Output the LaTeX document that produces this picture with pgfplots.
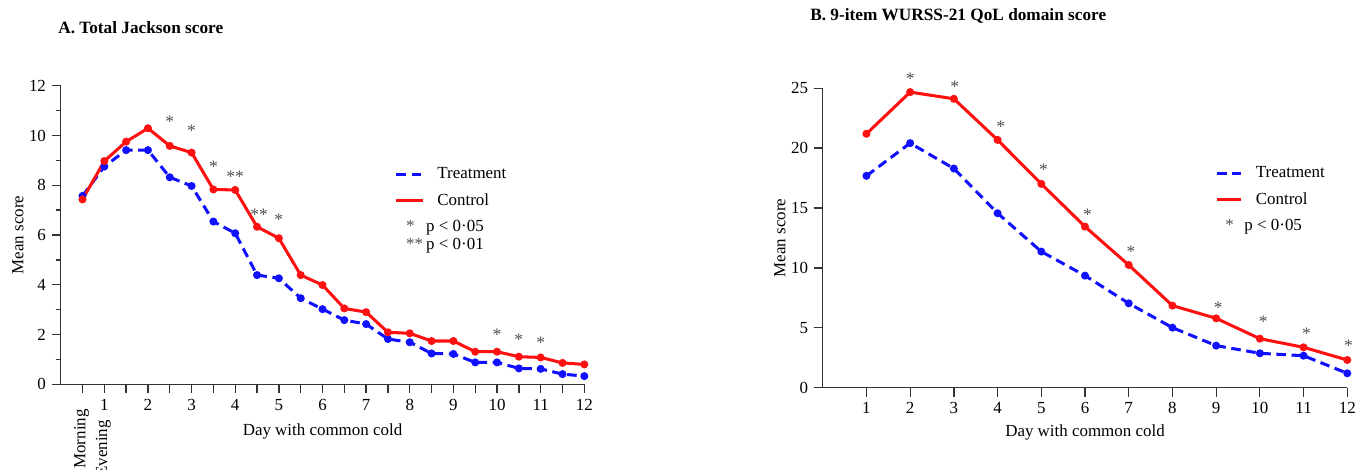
\documentclass[border=0pt]{standalone}
\usepackage{fontspec}
\setmainfont{Liberation Serif}
\usepackage{pgfplots}
\pgfplotsset{compat=1.18}
\definecolor{ctrlred}{HTML}{FF1010}
\definecolor{trtblue}{HTML}{1010FF}
\definecolor{stargray}{HTML}{505050}
\definecolor{axgray}{HTML}{333333}

\newcommand\figfont{\fontsize{10.6}{12.5}\selectfont}

\pgfplotsset{
  coldaxis/.style={
    scale only axis,
    axis lines=left,
    axis line style={-, axgray, line width=0.8pt},
    every tick/.style={axgray, line width=0.8pt},
    tick align=outside,
    major tick length=0.2cm,
    minor tick length=0.11cm,
    font=\figfont,
    /pgf/number format/assume math mode=true,
    xmin=0, xmax=12,
    xlabel={Day with common cold},
    ylabel={Mean score},
    ylabel style={at={(axis description cs:-0.0815,0.5)}, anchor=center},
    clip=false,
    legend cell align=left,
  },
  trt/.style={trtblue, line width=1.9pt, dash pattern=on 6pt off 3.5pt,
    mark=*, mark size=1.5pt, mark options={solid}},
  ctrl/.style={ctrlred, line width=1.9pt, mark=*, mark size=1.5pt},
  stars/.style={only marks, mark=none, forget plot,
    point meta=explicit symbolic,
    nodes near coords={\pgfplotspointmeta},
    every node near coord/.append style={anchor=base, yshift=-0.18cm,
      text=stargray, inner sep=0pt, font=\fontsize{11}{13}\selectfont}},
}

\begin{document}
\begin{tikzpicture}

% A: Total Jackson score
\begin{axis}[coldaxis,
  at={(1.335cm,1.863cm)}, anchor=origin,
  width=11.52cm, height=6.57cm,
  ymin=0, ymax=12,
  xtick={1,...,12},
  extra x ticks={0.5,1.5,...,11.5}, extra x tick labels={},
  ytick={0,2,...,12}, minor y tick num=1,
  xlabel style={at={(axis description cs:0.5,-0.159)}, anchor=center},
  legend image code/.code={\draw[#1] (0cm,0cm) -- (0.58cm,0cm);},
  legend style={draw=none, fill=none, at={(axis cs:7.54,8.85)}, anchor=north west,
    row sep=0.28cm, nodes={inner sep=0pt}, column sep=0.29cm},
]
\addplot[trt] coordinates {
  (0.5,7.57) (1,8.75) (1.5,9.41) (2,9.41) (2.5,8.32) (3,7.97)
  (3.5,6.54) (4,6.07) (4.5,4.39) (5,4.26) (5.5,3.46) (6,3.02)
  (6.5,2.58) (7,2.42) (7.5,1.82) (8,1.69) (8.5,1.24) (9,1.22)
  (9.5,0.88) (10,0.88) (10.5,0.64) (11,0.62) (11.5,0.41) (12,0.33)};
\addlegendentry{Treatment}
\addplot[ctrl] coordinates {
  (0.5,7.43) (1,8.97) (1.5,9.75) (2,10.29) (2.5,9.58) (3,9.31)
  (3.5,7.83) (4,7.81) (4.5,6.33) (5,5.87) (5.5,4.39) (6,3.99)
  (6.5,3.05) (7,2.90) (7.5,2.09) (8,2.05) (8.5,1.74) (9,1.74)
  (9.5,1.31) (10,1.31) (10.5,1.11) (11,1.08) (11.5,0.86) (12,0.80)};
\addlegendentry{Control}
\addplot[stars] coordinates {
  (2.5,10.65) [*] (3,10.29) [*] (3.5,8.84) [*] (4,8.44) [**]
  (4.55,6.9) [**] (5,6.7) [*] (10,2.09) [*] (10.5,1.87) [*] (11,1.78) [*]};
\end{axis}

% B: WURSS-21 QoL domain score
\begin{axis}[coldaxis,
  at={(18.10cm,1.789cm)}, anchor=origin,
  width=11.54cm, height=6.59cm,
  ymin=0, ymax=25,
  xtick={1,...,12},
  ytick={0,5,...,25},
  xlabel style={at={(axis description cs:0.5,-0.151)}, anchor=center},
  legend image code/.code={\draw[#1] (0cm,0cm) -- (0.52cm,0cm);},
  legend style={draw=none, fill=none, at={(axis cs:8.87,18.76)}, anchor=north west,
    row sep=0.28cm, nodes={inner sep=0pt}, column sep=0.3cm},
]
\addplot[trt] coordinates {
  (1,17.68) (2,20.41) (3,18.29) (4,14.56) (5,11.36) (6,9.35)
  (7,7.04) (8,5.01) (9,3.51) (10,2.87) (11,2.67) (12,1.20)};
\addlegendentry{Treatment}
\addplot[ctrl] coordinates {
  (1,21.19) (2,24.67) (3,24.11) (4,20.68) (5,17.01) (6,13.44)
  (7,10.24) (8,6.85) (9,5.79) (10,4.09) (11,3.37) (12,2.31)};
\addlegendentry{Control}
\addplot[stars] coordinates {
  (2,26.0) [*] (3.02,25.3) [*] (4.07,22.0) [*] (5.05,18.4) [*] (6.06,14.6) [*]
  (7.05,11.55) [*] (9.05,6.9) [*] (10.08,5.7) [*] (11.07,4.67) [*] (12.03,3.7) [*]};
\end{axis}

\begin{scope}[font=\figfont]
\node[anchor=base west, inner sep=0pt, font=\fontsize{10.8}{13}\selectfont\bfseries] at (1.276,9.57) {A. Total Jackson score};
\node[anchor=base west, inner sep=0pt, font=\fontsize{10.8}{13}\selectfont\bfseries] at (17.82,9.863) {B. 9-item WURSS-21 QoL domain score};
\node[rotate=90, anchor=east, inner sep=0pt] at (1.797,1.32) {Morning};
\node[rotate=90, anchor=east, inner sep=0pt] at (2.273,1.078) {Evening};
\node[anchor=base west, inner sep=0pt] at (8.93,5.225) {\makebox[0.44cm][l]{\textcolor{stargray}{*}}p < 0·05};
\node[anchor=base west, inner sep=0pt] at (8.93,4.829) {\makebox[0.44cm][l]{\textcolor{stargray}{**}}p < 0·01};
\node[anchor=base west, inner sep=0pt] at (26.95,5.236) {\makebox[0.42cm][l]{\textcolor{stargray}{*}}p < 0·05};
\end{scope}

\pgfresetboundingbox
\useasboundingbox (0,0) rectangle (30.118,10.318);
\end{tikzpicture}
\end{document}
